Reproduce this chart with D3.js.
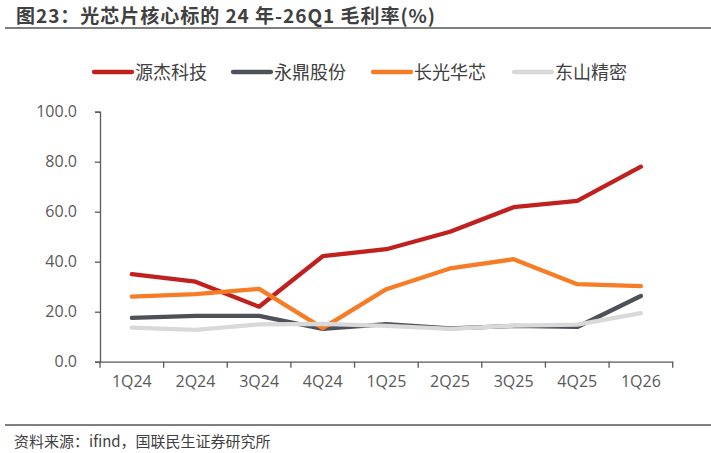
<!DOCTYPE html>
<html><head><meta charset="utf-8">
<script src="https://cdn.jsdelivr.net/npm/d3@7"></script>
<style>
body{margin:0;background:#fff;}
svg{display:block;font-family:"Noto Sans CJK SC","Noto Sans",sans-serif;}
</style></head><body>
<svg id="c" width="711" height="453"></svg>
<script>
const categories = ["1Q24","2Q24","3Q24","4Q24","1Q25","2Q25","3Q25","4Q25","1Q26"];
const seriesNames = ["源杰科技","永鼎股份","长光华芯","东山精密"];
const yuanjie   = [35.0, 32.0, 22.0, 42.2, 45.0, 52.0, 61.8, 64.3, 78.0];
const yongding  = [17.5, 18.3, 18.3, 13.1, 15.0, 13.3, 14.3, 13.9, 26.3];
const changguang= [26.0, 27.0, 29.1, 13.4, 29.0, 37.3, 41.0, 31.0, 30.2];
const dongshan  = [13.6, 12.7, 14.9, 15.1, 14.3, 13.1, 14.4, 14.8, 19.4];
const yTicks = [0, 20, 40, 60, 80, 100];
const colors = ["#C0211F","#4E5258","#F77C26","#D9D9D9"];
const allSeries = [yuanjie, yongding, changguang, dongshan];

(function(){
const svg = d3.select("#c");
const pL = 100, pR = 672.7, pT = 111.7, pB = 361.7;
const x = d3.scaleBand().domain(categories).range([pL, pR]);
const y = d3.scaleLinear().domain([0, 100]).range([pB, pT]);

// title
svg.append("text").attr("x", 16).attr("y", 23)
  .attr("font-size", 19).attr("font-weight", "bold").attr("fill", "#404040")
  .attr("textLength", 419).attr("lengthAdjust", "spacing")
  .text("图23：光芯片核心标的 24 年-26Q1 毛利率(%)");
svg.append("line").attr("x1", 5).attr("x2", 711).attr("y1", 28).attr("y2", 28)
  .attr("stroke", "#7F7F7F").attr("stroke-width", 2);

// footer
svg.append("line").attr("x1", 5).attr("x2", 711).attr("y1", 425).attr("y2", 425)
  .attr("stroke", "#7F7F7F").attr("stroke-width", 2);
svg.append("text").attr("x", 14).attr("y", 446.5)
  .attr("font-size", 15).attr("fill", "#404040")
  .text("资料来源：ifind，国联民生证券研究所");

// axes
const yAxis = d3.axisLeft(y).tickValues(yTicks).tickSize(5).tickPadding(18)
  .tickFormat(d3.format(".1f"));
const gy = svg.append("g").attr("transform", `translate(${pL},0)`).call(yAxis);
gy.select(".domain").attr("stroke", "#595959").attr("stroke-width", 1.3);
gy.selectAll(".tick line").attr("stroke", "#595959").attr("stroke-width", 1.3);
gy.selectAll(".tick text").attr("font-size", 16).attr("fill", "#595959")
  .attr("font-family", "'Open Sans','Noto Sans',sans-serif");

const xAxis = d3.axisBottom(x).tickSize(0).tickPadding(14);
const gx = svg.append("g").attr("transform", `translate(0,${pB})`).call(xAxis);
gx.select(".domain").attr("stroke", "#595959").attr("stroke-width", 1.3);
gx.selectAll(".tick text").attr("font-size", 16).attr("fill", "#595959")
  .attr("font-family", "'Open Sans','Noto Sans',sans-serif");
const bounds = categories.map(c => x(c)).concat([x(categories[categories.length-1]) + x.bandwidth()]);
gx.selectAll("line.bt").data(bounds).enter().append("line").attr("class","bt")
  .attr("x1", d => d).attr("x2", d => d).attr("y1", 0).attr("y2", 6)
  .attr("stroke", "#595959").attr("stroke-width", 1.3);

// lines (series order: later series drawn on top)
const line = d3.line().x((d, i) => x(categories[i]) + x.bandwidth()/2).y(d => y(d));
[0,1,2,3].forEach(k => {
  svg.append("path").datum(allSeries[k]).attr("d", line)
    .attr("fill", "none").attr("stroke", colors[k]).attr("stroke-width", 4.3)
    .attr("stroke-linecap", "round").attr("stroke-linejoin", "round");
});

// legend
const legX = [92, 231, 371, 512];
seriesNames.forEach((n, i) => {
  svg.append("line").attr("x1", legX[i]+2).attr("x2", legX[i]+40).attr("y1", 72).attr("y2", 72)
    .attr("stroke", colors[i]).attr("stroke-width", 4.3).attr("stroke-linecap", "round");
  svg.append("text").attr("x", legX[i]+43).attr("y", 78.5)
    .attr("font-size", 18).attr("fill", "#404040").text(n);
});
})();
</script>
</body></html>
